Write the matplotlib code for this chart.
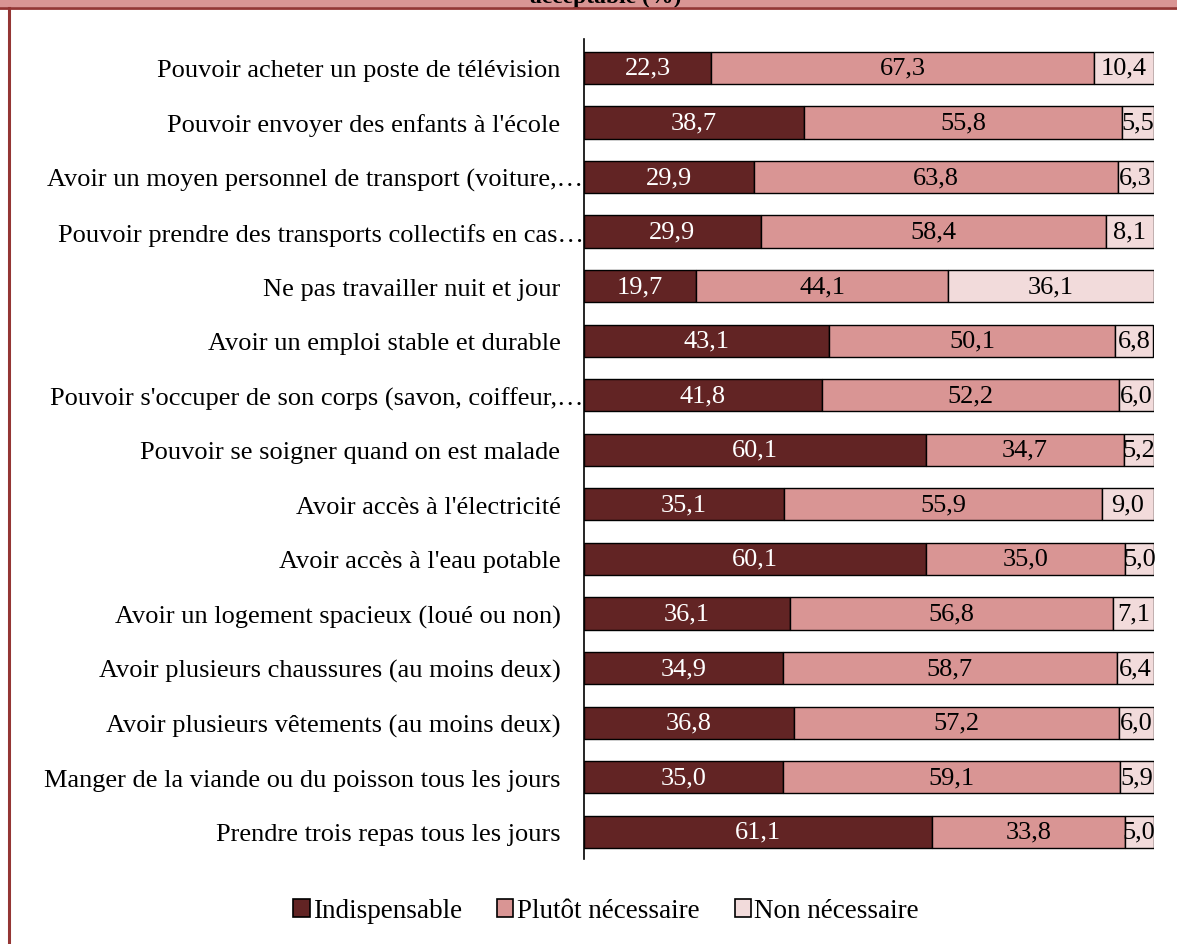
import numpy as np
import matplotlib
matplotlib.use("Agg")
import matplotlib.pyplot as plt
import matplotlib.transforms as mtransforms
from matplotlib.patches import Rectangle
from matplotlib.lines import Line2D

# data (top to bottom)
labels = [
    "Pouvoir acheter un poste de télévision",
    "Pouvoir envoyer des enfants à l'école",
    "Avoir un moyen personnel de transport (voiture,…",
    "Pouvoir prendre des transports collectifs en cas…",
    "Ne pas travailler nuit et jour",
    "Avoir un emploi stable et durable",
    "Pouvoir s'occuper de son corps (savon, coiffeur,…",
    "Pouvoir se soigner quand on est malade",
    "Avoir accès à l'électricité",
    "Avoir accès à l'eau potable",
    "Avoir un logement spacieux (loué ou non)",
    "Avoir plusieurs chaussures (au moins deux)",
    "Avoir plusieurs vêtements (au moins deux)",
    "Manger de la viande ou du poisson tous les jours",
    "Prendre trois repas tous les jours",
]
indispensable = [22.3, 38.7, 29.9, 29.9, 19.7, 43.1, 41.8, 60.1, 35.1, 60.1, 36.1, 34.9, 36.8, 35.0, 61.1]
plutot = [67.3, 55.8, 63.8, 58.4, 44.1, 50.1, 52.2, 34.7, 55.9, 35.0, 56.8, 58.7, 57.2, 59.1, 33.8]
non_nec = [10.4, 5.5, 6.3, 8.1, 36.1, 6.8, 6.0, 5.2, 9.0, 5.0, 7.1, 6.4, 6.0, 5.9, 5.0]
series_names = ["Indispensable", "Plutôt nécessaire", "Non nécessaire"]
colors = ["#622424", "#D99594", "#F2DBDB"]
text_colors = ["white", "black", "black"]

plt.rcParams["font.family"] = ["Liberation Serif", "DejaVu Serif"]

fig = plt.figure(figsize=(11.77, 9.45), dpi=100)
ax = fig.add_axes([584 / 1177, 85 / 945, 569.5 / 1177, 820 / 945])

# 100% stacked bars, labels show raw values
vals = np.array([indispensable, plutot, non_nec])
pct = vals / vals.sum(axis=0) * 100
y = np.arange(len(labels))
left = np.zeros(len(labels))
for k in range(3):
    bars = ax.barh(y, pct[k], left=left, height=0.59, color=colors[k],
                   edgecolor="black", linewidth=1.0, label=series_names[k])
    for i, b in enumerate(bars):
        ax.text(left[i] + pct[k][i] / 2, y[i], f"{vals[k][i]:.1f}".replace(".", ","),
                ha="center", va="center", fontsize=19, color=text_colors[k])
    left += pct[k]

ax.set_xlim(0, 100)
ax.set_ylim(14.5, -0.53)
ax.set_yticks(y)
ax.set_yticklabels(labels, fontsize=19)
ax.tick_params(axis="y", length=0, pad=17)
ax.set_xticks([])
for s in ["top", "right", "bottom"]:
    ax.spines[s].set_visible(False)
ax.spines["left"].set_linewidth(1.2)

# truncated labels sit closer to the axis
for t in ax.get_yticklabels():
    if t.get_text().endswith("…"):
        t.set_transform(t.get_transform() + mtransforms.ScaledTranslation(23 / 100, 0, fig.dpi_scale_trans))

# legend
handles = [Rectangle((0, 0), 1, 1, facecolor=c, edgecolor="black", linewidth=1.2) for c in colors]
fig.legend(handles, series_names, loc="center", bbox_to_anchor=(606 / 1177, 1 - 912 / 945),
           ncol=3, frameon=False, fontsize=19.5, handlelength=0.6, handleheight=0.6,
           handletextpad=0.12, columnspacing=1.3)

# header band with cut title and frame line
fig.patches.append(Rectangle((0, 1 - 8 / 945), 1, 8 / 945, transform=fig.transFigure,
                             facecolor="#D99594", edgecolor="none", zorder=0))
fig.text(606 / 1177, 1 - 3 / 945, "acceptable (%)", ha="center", va="baseline",
         fontsize=17, fontweight="bold", zorder=1)
fig.lines.append(Line2D([0, 1], [1 - 9 / 945, 1 - 9 / 945], transform=fig.transFigure,
                        color="#943634", linewidth=2))
fig.lines.append(Line2D([8.5 / 1177, 8.5 / 1177], [0, 1 - 9 / 945], transform=fig.transFigure,
                        color="#943634", linewidth=2.2))

fig.savefig("out.png", dpi=100)
